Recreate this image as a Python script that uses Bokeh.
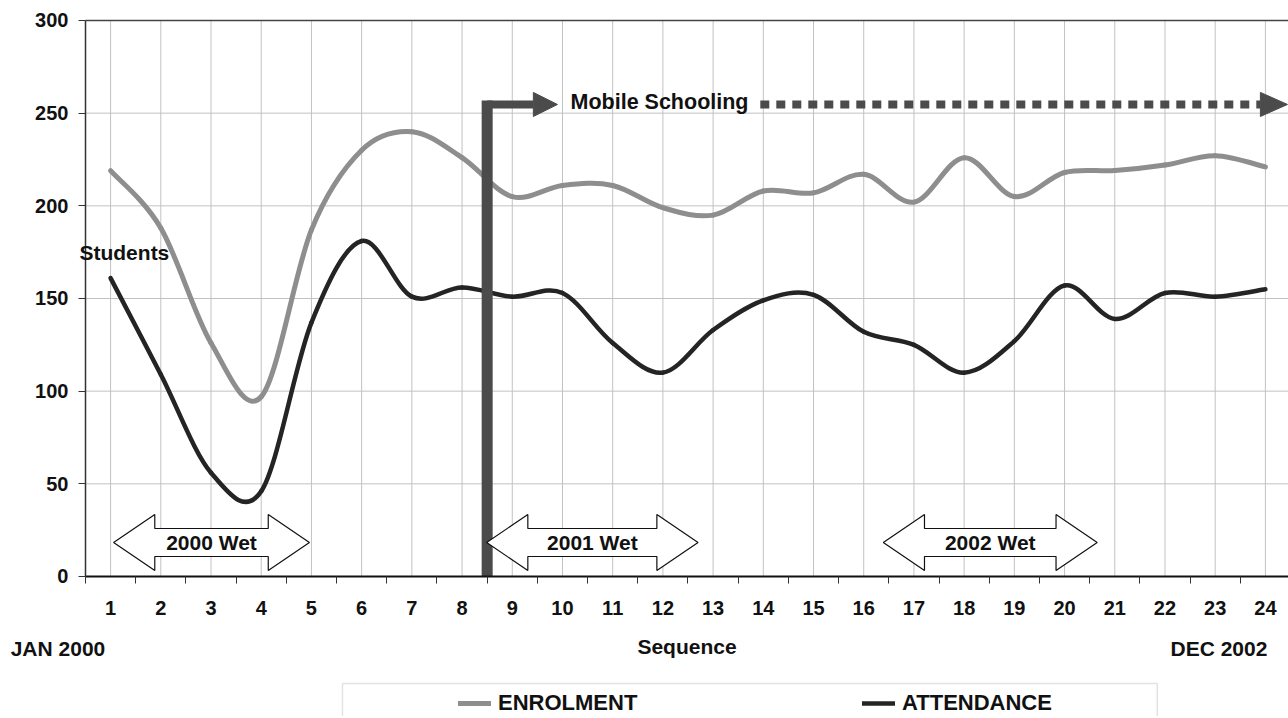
from bokeh.plotting import figure
from bokeh.models import (Range1d, FixedTicker, Label, Legend, LegendItem, ColumnDataSource,
                          BoxAnnotation)
from bokeh.embed import file_html
from bokeh.resources import INLINE

# ---------------- data ----------------
sequence = list(range(1, 25))
enrolment = [219, 188, 126, 97, 187, 230, 240, 226, 205, 211, 211, 199,
             195, 208, 207, 217, 202, 226, 205, 218, 219, 222, 227, 221]
attendance = [161, 109, 56, 46, 137, 181, 151, 156, 151, 153, 126, 110,
              133, 149, 152, 132, 125, 110, 127, 157, 139, 153, 151, 155]
y_ticks = [0, 50, 100, 150, 200, 250, 300]
x_bounds = [s - 0.5 for s in sequence] + [24.5]
series_names = ["ENROLMENT", "ATTENDANCE"]

wet_labels = ["2000 Wet", "2001 Wet", "2002 Wet"]
wet_start = [1.06, 8.49, 16.39]
wet_end = [4.96, 12.70, 20.65]

mobile_x = 8.5
mobile_top = 256.8
mobile_arm_y = 254.7

# ---------------- styles ----------------
GRAY = "#8e8e8e"
BLACK = "#242424"
DARK = "#4b4b4b"
GRID = "#c2c2c2"
FONT = "Liberation Sans"
TXT = "#111111"


def smooth(xs, ys):
    """Bezier segments through the points (Excel-like smoothed line)."""
    n = len(xs)
    d = dict(x0=[], y0=[], x1=[], y1=[], cx0=[], cy0=[], cx1=[], cy1=[])
    for i in range(n - 1):
        pm = i - 1 if i > 0 else i
        pp = i + 2 if i + 2 < n else i + 1
        d["x0"].append(xs[i]); d["y0"].append(ys[i])
        d["x1"].append(xs[i + 1]); d["y1"].append(ys[i + 1])
        d["cx0"].append(xs[i] + (xs[i + 1] - xs[pm]) / 6.0)
        d["cy0"].append(ys[i] + (ys[i + 1] - ys[pm]) / 6.0)
        d["cx1"].append(xs[i + 1] - (xs[pp] - xs[i]) / 6.0)
        d["cy1"].append(ys[i + 1] - (ys[pp] - ys[i]) / 6.0)
    return ColumnDataSource(d)


p = figure(width=1288, height=716,
           x_range=Range1d(-1.1927, 24.46), y_range=Range1d(-75.54, 310.79),
           output_backend="svg", toolbar_location=None,
           min_border_left=0, min_border_right=0, min_border_top=0, min_border_bottom=0)
p.outline_line_color = None
p.xgrid.visible = False
p.ygrid.visible = False

# ---------------- axes (drawn at fixed positions) ----------------
xa = p.xaxis[0]
xa.fixed_location = 0
xa.bounds = (0.5, 24.5)
xa.ticker = FixedTicker(ticks=sequence, minor_ticks=x_bounds)
xa.major_tick_line_color = None
xa.major_tick_out = 0
xa.major_tick_in = 0
xa.minor_tick_out = 7
xa.minor_tick_in = 0
xa.minor_tick_line_color = "#333333"
xa.axis_line_color = "#111111"
xa.axis_line_width = 2
xa.major_label_standoff = 18
xa.axis_label = "Sequence"
xa.axis_label_standoff = 16

ya = p.yaxis[0]
ya.fixed_location = 0.5
ya.bounds = (0, 300)
ya.ticker = FixedTicker(ticks=y_ticks)
ya.major_tick_out = 7
ya.major_tick_in = 0
ya.minor_tick_line_color = None
ya.major_tick_line_color = "#333333"
ya.axis_line_color = "#333333"
ya.axis_line_width = 1.5
ya.major_label_standoff = 10

for ax in (xa, ya):
    ax.major_label_text_font = FONT
    ax.major_label_text_font_style = "bold"
    ax.major_label_text_font_size = "20px"
    ax.major_label_text_color = TXT
    ax.axis_label_text_font = FONT
    ax.axis_label_text_font_style = "bold"
    ax.axis_label_text_font_size = "21px"
    ax.axis_label_text_color = TXT

# ---------------- grid lines inside the plot area ----------------
p.segment(x0=[0.5] * len(y_ticks), x1=[24.5] * len(y_ticks), y0=y_ticks, y1=y_ticks,
          line_color=GRID, line_width=1)
p.segment(x0=sequence, x1=sequence, y0=[0] * len(sequence), y1=[300] * len(sequence),
          line_color=GRID, line_width=1)
p.segment(x0=[0.5], x1=[24.5], y0=[300], y1=[300], line_color="#444444", line_width=1.5)

# ---------------- series (smoothed lines) ----------------
r_enr = p.bezier(x0="x0", y0="y0", x1="x1", y1="y1", cx0="cx0", cy0="cy0", cx1="cx1", cy1="cy1",
                 source=smooth(sequence, enrolment), line_color=GRAY, line_width=5,
                 line_cap="round")
r_att = p.bezier(x0="x0", y0="y0", x1="x1", y1="y1", cx0="cx0", cy0="cy0", cx1="cx1", cy1="cy1",
                 source=smooth(sequence, attendance), line_color=BLACK, line_width=4.5,
                 line_cap="round")

# ---------------- Mobile schooling marker ----------------
p.line(x=[mobile_x, mobile_x], y=[0, mobile_top], line_color=DARK, line_width=11, line_cap="butt")
p.line(x=[mobile_x, 9.42], y=[mobile_arm_y, mobile_arm_y], line_color=DARK, line_width=8)
p.patch(x=[9.42, 9.42, 9.90], y=[261.2, 248.2, mobile_arm_y], fill_color=DARK, line_color=DARK)
p.line(x=[13.94, 23.90], y=[mobile_arm_y, mobile_arm_y], line_color=DARK, line_width=8,
       line_dash="9 7")
p.patch(x=[23.90, 23.90, 24.44], y=[261.2, 248.2, mobile_arm_y], fill_color=DARK, line_color=DARK)
p.add_layout(Label(x=10.16, y=255.8, text="Mobile Schooling", text_font=FONT,
                   text_font_style="bold", text_font_size="21.5px", text_baseline="middle",
                   text_align="left", text_color=TXT))

# ---------------- wet-season double arrows ----------------
yc, H, S, h = 18.35, 15.1, 7.55, 0.82
xs_list, ys_list = [], []
for a, b in zip(wet_start, wet_end):
    xs_list.append([a, a + h, a + h, b - h, b - h, b, b - h, b - h, a + h, a + h])
    ys_list.append([yc, yc + H, yc + S, yc + S, yc + H, yc, yc - H, yc - S, yc - S, yc - H])
p.patches(xs=xs_list, ys=ys_list, fill_color="white", line_color=TXT, line_width=1.2)
for a, b, t in zip(wet_start, wet_end, wet_labels):
    p.add_layout(Label(x=(a + b) / 2, y=18.1, text=t, text_font=FONT, text_font_style="bold",
                       text_font_size="21px", text_align="center", text_baseline="middle",
                       text_color=TXT))

# ---------------- other texts ----------------
p.add_layout(Label(x=0.38, y=174.8, text="Students", text_font=FONT, text_font_style="bold",
                   text_font_size="21px", text_baseline="middle", text_align="left",
                   text_color=TXT))
p.add_layout(Label(x=-0.99, y=-39.1, text="JAN 2000", text_font=FONT, text_font_style="bold",
                   text_font_size="21px", text_baseline="middle", text_align="left",
                   text_color=TXT))
p.add_layout(Label(x=24.04, y=-39.1, text="DEC 2002", text_font=FONT, text_font_style="bold",
                   text_font_size="21px", text_baseline="middle", text_align="right",
                   text_color=TXT))

# ---------------- legend ----------------
p.add_layout(BoxAnnotation(left=5.618, right=21.847, top=-57.73, bottom=-95,
                           fill_alpha=0, fill_color=None, line_color="#a0a0a0", line_width=1.5))
legend = Legend(items=[LegendItem(label=series_names[0], renderers=[r_enr]),
                       LegendItem(label=series_names[1], renderers=[r_att])],
                orientation="horizontal", location=(458, 0), padding=0, margin=0,
                spacing=204, glyph_width=33, glyph_height=24, label_width=160, label_height=24,
                label_standoff=7, border_line_color=None, background_fill_alpha=0,
                label_text_font=FONT, label_text_font_style="bold",
                label_text_font_size="22px", label_text_color=TXT)
p.add_layout(legend, "center")

open("out.html", "w").write(file_html(p, INLINE))
